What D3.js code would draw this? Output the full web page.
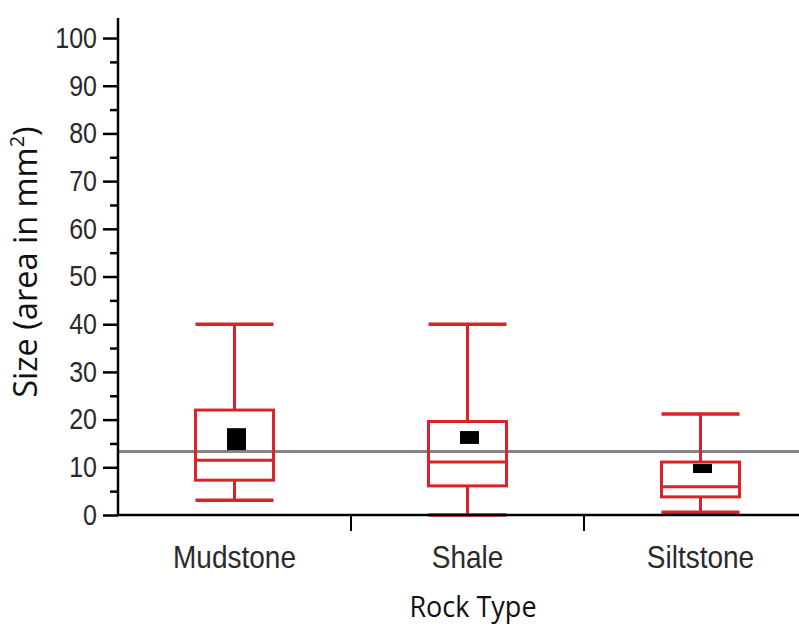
<!DOCTYPE html>
<html>
<head>
<meta charset="utf-8">
<script src="https://cdnjs.cloudflare.com/ajax/libs/d3/7.8.5/d3.min.js"></script>
<style>
  body { margin: 0; background: #fff; }
  svg { display: block; }
</style>
</head>
<body>
<svg id="chart" width="799" height="629"></svg>
<script>
(function () {
  'use strict';

  var categories = ['Mudstone', 'Shale', 'Siltstone'];
  var whiskerLow = [3.1, 0, 0.6];
  var q1 = [7.3, 6.1, 3.8];
  var median = [11.5, 11.1, 5.9];
  var q3 = [22.0, 19.6, 11.1];
  var whiskerHigh = [40, 40, 21.2];
  var meanLow = [13.6, 14.9, 8.8];
  var meanHigh = [18.2, 17.6, 10.7];
  var grandMean = 13.3;
  var yTicks = [0, 10, 20, 30, 40, 50, 60, 70, 80, 90, 100];
  var yMinorTicks = [5, 15, 25, 35, 45, 55, 65, 75, 85, 95];

  var red = '#d8232a',
    svg = d3.select('#chart'),
    x = d3.scaleBand().domain(categories).range([118, 817]),
    y = d3.scaleLinear().domain([0, 104.2]).range([515, 18]),
    boxW = x.bandwidth() * 0.335,
    meanW = 19;

  var rows = categories.map(function (c, i) {
    return {
      cat: c, lo: whiskerLow[i], q1: q1[i], med: median[i], q3: q3[i],
      hi: whiskerHigh[i], mLo: meanLow[i], mHi: meanHigh[i]
    };
  });

  function cx(d) { return x(d.cat) + x.bandwidth() / 2; }

  // grand mean reference line
  svg.append('line')
    .attr('x1', x.range()[0]).attr('x2', 799)
    .attr('y1', y(grandMean)).attr('y2', y(grandMean))
    .attr('stroke', '#858585').attr('stroke-width', 3);

  var g = svg.append('g').selectAll('g').data(rows).enter().append('g')
    .attr('fill', 'none').attr('stroke', red).attr('stroke-width', 3);

  // whisker stems
  g.append('line')
    .attr('x1', cx).attr('x2', cx)
    .attr('y1', function (d) { return y(d.q3); })
    .attr('y2', function (d) { return y(d.hi); });
  g.append('line')
    .attr('x1', cx).attr('x2', cx)
    .attr('y1', function (d) { return y(d.q1); })
    .attr('y2', function (d) { return y(d.lo); });

  // caps
  ['lo', 'hi'].forEach(function (k) {
    g.append('line')
      .attr('x1', function (d) { return cx(d) - boxW / 2; })
      .attr('x2', function (d) { return cx(d) + boxW / 2; })
      .attr('y1', function (d) { return y(d[k]); })
      .attr('y2', function (d) { return y(d[k]); })
      .attr('stroke-width', 3.5);
  });

  // boxes
  g.append('rect')
    .attr('x', function (d) { return cx(d) - boxW / 2; })
    .attr('width', boxW)
    .attr('y', function (d) { return y(d.q3); })
    .attr('height', function (d) { return y(d.q1) - y(d.q3); });

  g.append('line')
    .attr('x1', function (d) { return cx(d) - boxW / 2; })
    .attr('x2', function (d) { return cx(d) + boxW / 2; })
    .attr('y1', function (d) { return y(d.med); })
    .attr('y2', function (d) { return y(d.med); });

  // mean markers
  svg.append('g').selectAll('rect').data(rows).enter().append('rect')
    .attr('x', function (d) { return cx(d) + 2 - meanW / 2; })
    .attr('width', meanW)
    .attr('y', function (d) { return y(d.mHi); })
    .attr('height', function (d) { return y(d.mLo) - y(d.mHi); })
    .attr('fill', '#000');

  // y axis
  var yAxis = svg.append('g').attr('transform', 'translate(118,0)')
    .call(d3.axisLeft(y).tickValues(yTicks).tickSize(15).tickPadding(6));
  yAxis.select('.domain').remove();
  yAxis.selectAll('line').attr('stroke', '#000').attr('stroke-width', 2.5);
  yAxis.selectAll('text')
    .attr('font-family', "'Liberation Sans', Arial, sans-serif")
    .attr('font-size', 25).attr('fill', '#2a2a2a')
    .attr('transform', 'scale(1,1.17)');

  var yMinor = svg.append('g').attr('transform', 'translate(118,0)')
    .call(d3.axisLeft(y).tickValues(yMinorTicks).tickSize(8).tickFormat(''));
  yMinor.select('.domain').remove();
  yMinor.selectAll('line').attr('stroke', '#000').attr('stroke-width', 2.5);

  svg.append('line')
    .attr('x1', 118).attr('x2', 118)
    .attr('y1', y.range()[1]).attr('y2', y(0) + 1)
    .attr('stroke', '#000').attr('stroke-width', 2.5);

  // x axis
  svg.append('line')
    .attr('x1', 117).attr('x2', 799)
    .attr('y1', y(0)).attr('y2', y(0))
    .attr('stroke', '#000').attr('stroke-width', 2.5);

  svg.append('g').selectAll('line').data(categories.slice(1)).enter().append('line')
    .attr('x1', function (c) { return x(c); })
    .attr('x2', function (c) { return x(c); })
    .attr('y1', y(0)).attr('y2', y(0) + 16)
    .attr('stroke', '#000').attr('stroke-width', 2);

  var xAxis = svg.append('g').attr('transform', 'translate(0,' + y(0) + ')')
    .call(d3.axisBottom(x).tickSize(0).tickPadding(26));
  xAxis.select('.domain').remove();
  xAxis.selectAll('text')
    .attr('font-family', "'Liberation Sans', Arial, sans-serif")
    .attr('font-size', 28).attr('fill', '#2a2a2a')
    .attr('transform', 'scale(1,1.15)');

  // axis titles
  svg.append('text')
    .attr('transform', 'translate(473,617) scale(1,1.1)')
    .attr('text-anchor', 'middle')
    .attr('font-family', "'Open Sans', sans-serif")
    .attr('font-size', 27).attr('fill', '#111')
    .text('Rock Type');

  var yt = svg.append('text')
    .attr('transform', 'translate(37,262) rotate(-90)')
    .attr('text-anchor', 'middle')
    .attr('font-family', "'Open Sans', sans-serif")
    .attr('font-size', 32.5).attr('fill', '#111');
  yt.append('tspan').text('Size (area in mm');
  yt.append('tspan').attr('font-size', 20).attr('dy', -13).text('2');
  yt.append('tspan').attr('dy', 13).text(')');
})();
</script>
</body>
</html>
